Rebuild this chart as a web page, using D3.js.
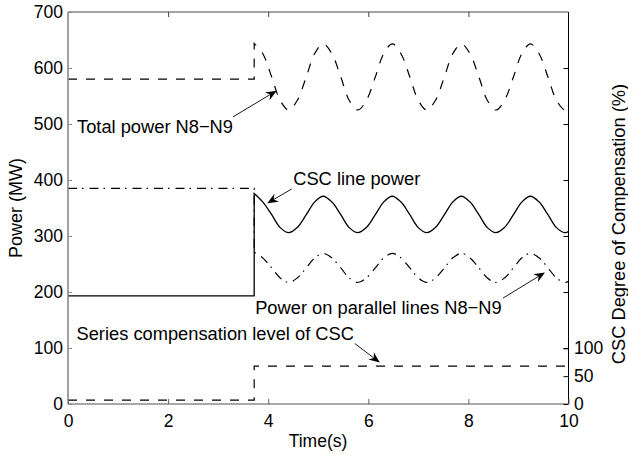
<!DOCTYPE html>
<html>
<head>
<meta charset="utf-8">
<script src="https://cdn.jsdelivr.net/npm/d3@7"></script>
<style>
  html, body { margin: 0; padding: 0; background: #fff; }
  svg text { font-family: "Liberation Sans", Arial, Helvetica, sans-serif; fill: #000; }
</style>
</head>
<body>
<svg id="chart" width="628" height="455"></svg>
<script>
// Time at which the CSC is switched in (s)
const switchTime = 3.72;

// Samples after the switching event (s)
const timeAfter = [
  3.72, 3.89, 4.07, 4.24, 4.41, 4.58, 4.76, 4.93,
  5.10, 5.27, 5.45, 5.62, 5.79, 5.96, 6.14, 6.31,
  6.48, 6.65, 6.83, 7.00, 7.17, 7.34, 7.52, 7.69,
  7.86, 8.03, 8.21, 8.38, 8.55, 8.72, 8.90, 9.07,
  9.24, 9.41, 9.59, 9.76, 9.93, 10.0
];

// Total power N8-N9 (MW)
const totalBefore = 580;
const totalAfter = [
  644, 626, 584, 542, 525, 542, 584, 626,
  643, 626, 584, 542, 525, 542, 584, 626,
  643, 626, 584, 542, 525, 542, 584, 626,
  643, 626, 584, 542, 525, 542, 584, 626,
  643, 626, 584, 542, 525, 529
];

// CSC line power (MW)
const cscBefore = 193;
const cscAfter = [
  376, 361, 338, 315, 306, 315, 338, 361,
  371, 361, 338, 315, 306, 315, 338, 361,
  371, 361, 338, 315, 306, 315, 338, 361,
  371, 361, 338, 315, 306, 315, 338, 361,
  371, 361, 338, 315, 306, 308
];

// Power on parallel lines N8-N9 (MW)
const parallelBefore = 385;
const parallelAfter = [
  271, 261, 243, 225, 217, 225, 243, 261,
  269, 261, 243, 225, 217, 225, 243, 261,
  269, 261, 243, 225, 217, 225, 243, 261,
  269, 261, 243, 225, 217, 225, 243, 261,
  269, 261, 243, 225, 217, 219
];

// Series compensation level of the CSC (%), right axis
const compTime  = [0, 3.72, 3.72, 10];
const compLevel = [7, 7, 68, 68];

// Axis ticks
const timeTicks = [0, 2, 4, 6, 8, 10];
const powerTicks = [0, 100, 200, 300, 400, 500, 600, 700];
const compTicks = [0, 50, 100];

// Annotations (positions in data units of the power axis)
const noteLabels = ["Total power N8\u2212N9", "CSC line power", "Power on parallel lines N8\u2212N9", "Series compensation level of CSC"];
const noteTextPos = [[0.18, 484], [4.50, 391], [3.74, 161], [0.17, 114]];
const noteArrowFrom = [[3.30, 513], [4.47, 384], [8.69, 189], [5.73, 108]];
const noteArrowTo = [[4.17, 559.5], [3.98, 358.4], [9.53, 235], [6.23, 74]];

const svg = d3.select("#chart");
const W = 628, H = 455;
const m = { left: 68, top: 12, right: 59.5, bottom: 51 };
const x0 = m.left, x1 = W - m.right, y0 = H - m.bottom, y1 = m.top;

const x = d3.scaleLinear().domain([0, 10]).range([x0, x1]);
const y = d3.scaleLinear().domain([0, 700]).range([y0, y1]);
const yR = d3.scaleLinear().domain([0, 704]).range([y0, y1]);

const FS = 17.5;      // tick labels
const FS_NOTE = 18.3; // annotations and axis titles

// Series: a flat pre-switch segment, a vertical step, then the oscillation
function seriesPath(before, after) {
  const stepPart = d3.line().x(d => x(d[0])).y(d => y(d[1]))
    ([[0, before], [switchTime, before]]);
  const pts = timeAfter.map((t, i) => [t, after[i]]);
  const oscPart = d3.line().curve(d3.curveCatmullRom.alpha(0.5))
    .x(d => x(d[0])).y(d => y(d[1]))(pts);
  return stepPart + oscPart.replace(/^M/, "L");
}

const plot = svg.append("g");

plot.append("path")
  .attr("d", seriesPath(totalBefore, totalAfter))
  .attr("fill", "none").attr("stroke", "#000").attr("stroke-width", 1.2)
  .attr("stroke-dasharray", "9,9");

plot.append("path")
  .attr("d", seriesPath(cscBefore, cscAfter))
  .attr("fill", "none").attr("stroke", "#000").attr("stroke-width", 1.3);

plot.append("path")
  .attr("d", seriesPath(parallelBefore, parallelAfter))
  .attr("fill", "none").attr("stroke", "#000").attr("stroke-width", 1.2)
  .attr("stroke-dasharray", "9,5,1.5,6");

plot.append("path")
  .attr("d", d3.line().x((d, i) => x(compTime[i])).y(d => yR(d))(compLevel))
  .attr("fill", "none").attr("stroke", "#000").attr("stroke-width", 1.2)
  .attr("stroke-dasharray", "9,9");

// Axes frame
const frame = svg.append("g");
frame.append("line").attr("x1", x0).attr("x2", x1).attr("y1", y1).attr("y2", y1)
  .attr("stroke", "#444").attr("stroke-width", 1);
frame.append("line").attr("x1", x1).attr("x2", x1).attr("y1", y1).attr("y2", y0)
  .attr("stroke", "#000").attr("stroke-width", 1);
frame.append("line").attr("x1", x0).attr("x2", x1).attr("y1", y0).attr("y2", y0)
  .attr("stroke", "#8a8a8a").attr("stroke-width", 1.6);
frame.append("line").attr("x1", x0).attr("x2", x0).attr("y1", y1).attr("y2", y0)
  .attr("stroke", "#8a8a8a").attr("stroke-width", 1.6);

const fontFam = "Liberation Sans, Arial, sans-serif";

// Bottom axis: inward ticks, labels below
const axBottom = svg.append("g").attr("transform", `translate(0,${y0})`)
  .call(d3.axisBottom(x).tickValues(timeTicks).tickSizeInner(-5).tickSizeOuter(0).tickPadding(10));
axBottom.select(".domain").remove();
axBottom.selectAll(".tick line").attr("stroke", "#666");
axBottom.selectAll(".tick text").attr("font-size", FS).style("font-family", fontFam).attr("dy", "0.71em").attr("y", 11);

// Top mirror ticks
const axTop = svg.append("g").attr("transform", `translate(0,${y1})`)
  .call(d3.axisTop(x).tickValues(timeTicks.slice(1, -1)).tickSizeInner(-5).tickSizeOuter(0).tickFormat(""));
axTop.select(".domain").remove();
axTop.selectAll(".tick line").attr("stroke", "#444");

// Left axis
const axLeft = svg.append("g").attr("transform", `translate(${x0},0)`)
  .call(d3.axisLeft(y).tickValues(powerTicks).tickSizeInner(-4).tickSizeOuter(0).tickPadding(10));
axLeft.select(".domain").remove();
axLeft.selectAll(".tick line").attr("stroke", "#8a8a8a");
axLeft.selectAll(".tick text").attr("font-size", FS).style("font-family", fontFam).attr("x", -5);

// Right mirror ticks of the power axis
const axRightMirror = svg.append("g").attr("transform", `translate(${x1},0)`)
  .call(d3.axisRight(y).tickValues(powerTicks.slice(1, -1)).tickSizeInner(-5).tickSizeOuter(0).tickFormat(""));
axRightMirror.select(".domain").remove();
axRightMirror.selectAll(".tick line").attr("stroke", "#000");

// Right axis: degree of compensation
const axRight = svg.append("g").attr("transform", `translate(${x1},0)`)
  .call(d3.axisRight(yR).tickValues(compTicks).tickSizeInner(-5).tickSizeOuter(0).tickPadding(6));
axRight.select(".domain").remove();
axRight.selectAll(".tick line").attr("stroke", "#000");
axRight.selectAll(".tick text").attr("font-size", FS).style("font-family", fontFam).attr("x", 5.5);

// Axis titles
svg.append("text").attr("x", 318).attr("y", 447).attr("text-anchor", "middle")
  .attr("font-size", FS).text("Time(s)");
svg.append("text").attr("transform", `translate(21.5,${(y0 + y1) / 2}) rotate(-90)`)
  .attr("text-anchor", "middle").attr("font-size", 18).text("Power (MW)");
svg.append("text").attr("transform", `translate(625,224) rotate(-90)`)
  .attr("text-anchor", "middle").attr("font-size", FS_NOTE).text("CSC Degree of Compensation (%)");

// Annotations with arrows
const notes = svg.append("g");
noteLabels.forEach((label, i) => {
  notes.append("text")
    .attr("x", x(noteTextPos[i][0])).attr("y", y(noteTextPos[i][1]))
    .attr("font-size", FS_NOTE).text(label);

  const sx = x(noteArrowFrom[i][0]), sy = y(noteArrowFrom[i][1]);
  const tx = x(noteArrowTo[i][0]), ty = y(noteArrowTo[i][1]);
  const dx = tx - sx, dy = ty - sy, len = Math.hypot(dx, dy);
  const ux = dx / len, uy = dy / len, px = -uy, py = ux;
  const L = 11, Wd = 4.5, notch = 7.5;
  const bx = tx - ux * L, by = ty - uy * L;
  const nx = tx - ux * notch, ny = ty - uy * notch;
  notes.append("line").attr("x1", sx).attr("y1", sy).attr("x2", nx).attr("y2", ny)
    .attr("stroke", "#000").attr("stroke-width", 0.9);
  notes.append("path")
    .attr("d", `M${tx},${ty}L${bx + px * Wd},${by + py * Wd}L${nx},${ny}L${bx - px * Wd},${by - py * Wd}Z`)
    .attr("fill", "#000");
});
</script>
</body>
</html>
